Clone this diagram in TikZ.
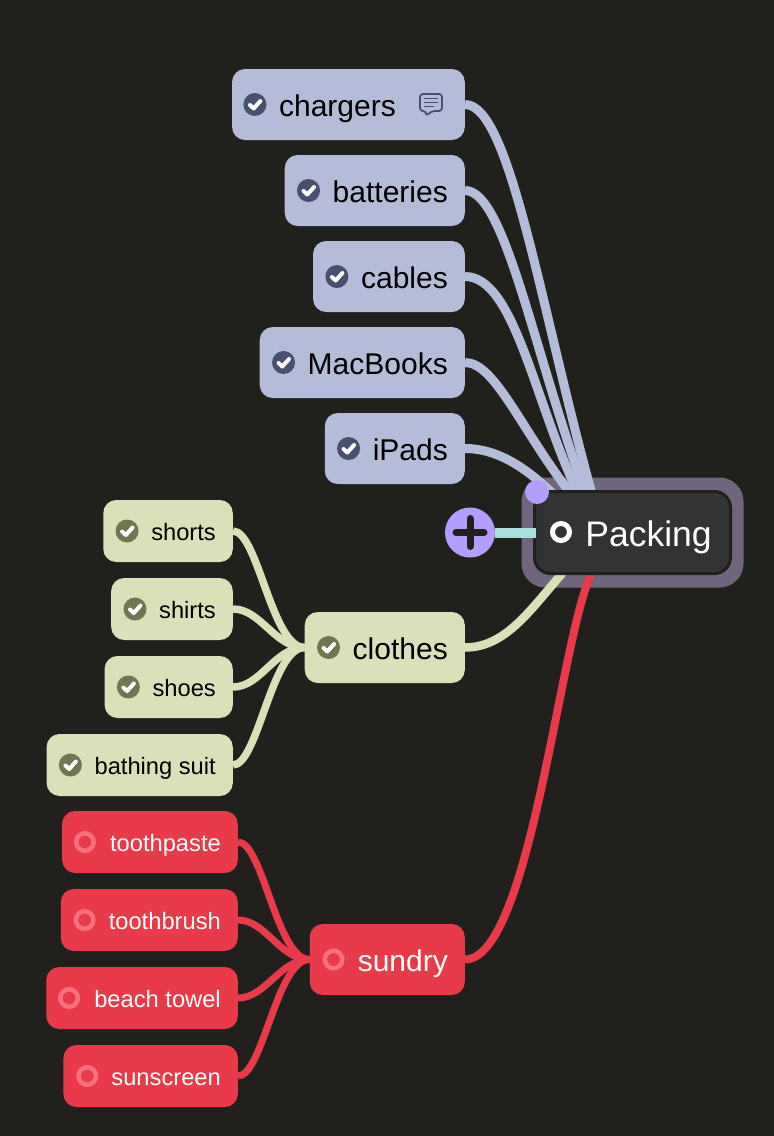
\documentclass[tikz,border=0pt]{standalone}
\usepackage{fontspec}
\setmainfont{Liberation Sans}
\usetikzlibrary{backgrounds}
\definecolor{bgdark}{HTML}{20211C}
\definecolor{bluefill}{HTML}{B4BCD9}
\definecolor{blueicon}{HTML}{47506F}
\definecolor{greenfill}{HTML}{DAE1B9}
\definecolor{greenicon}{HTML}{6F7650}
\definecolor{redfill}{HTML}{E93A49}
\definecolor{redicon}{HTML}{F6717C}
\definecolor{rootfill}{HTML}{333234}
\definecolor{rootring}{HTML}{6F667D}
\definecolor{purpledot}{HTML}{B39DFF}
\definecolor{tealstub}{HTML}{A8DFDC}

\begin{document}
\begin{tikzpicture}[x=1pt,y=-1pt]
	\tikzstyle{box}=[rectangle,rounded corners=13pt,anchor=east,inner ysep=0pt,inner xsep=17pt]
	\tikzstyle{bigbox}=[box,minimum height=71pt,font=\fontsize{30}{32}\selectfont,text height=25pt,text depth=2pt]
	\tikzstyle{smallbox}=[box,minimum height=62pt,font=\fontsize{23.7}{26}\selectfont,text height=20pt,text depth=1pt]
	\tikzstyle{tick}=[circle,inner sep=0pt,minimum size=23pt,path picture={
			\draw[white,line width=4pt,line cap=round,line join=round,shift={(path picture bounding box.center)}] (-5,0.5) -- (-1.2,4) -- (5.5,-3.5);}]
	\tikzstyle{opendot}=[circle,inner sep=0pt,minimum size=17.5pt,draw=redicon,line width=4.5pt]
	\tikzstyle{bluelink}=[bluefill,line width=9pt]
	\tikzstyle{greenlink}=[greenfill,line width=8.5pt]
	\tikzstyle{redlink}=[redfill,line width=8pt]
	\tikzstyle{greenchild}=[greenfill,line width=7.5pt]
	\tikzstyle{redchild}=[redfill,line width=7pt]

	\useasboundingbox (0,0) rectangle (774,1136);

	% root
	\node[rectangle,rounded corners=16pt,fill=rootfill,draw=bgdark,line width=3pt,minimum width=196pt,minimum height=82pt,text=white,
		inner sep=0pt,font=\fontsize{35.5}{38}\selectfont,text height=28pt,text depth=0pt] (packing) at (632.5,532.5) {\hspace*{32pt}Packing};
	\node[circle,draw=white,line width=5pt,inner sep=0pt,minimum size=17pt] (packing dot) at (561,532) {};

	% first level
	\node[bigbox,fill=bluefill] (chargers) at (465,104.5) {\hspace*{30pt}chargers\hspace*{52pt}};
	\node[bigbox,fill=bluefill] (batteries) at (465,190.5) {\hspace*{31pt}batteries};
	\node[bigbox,fill=bluefill] (cables) at (465,276.5) {\hspace*{31pt}cables};
	\node[bigbox,fill=bluefill] (macbooks) at (465,362.5) {\hspace*{31pt}MacBooks};
	\node[bigbox,fill=bluefill] (ipads) at (465,448.5) {\hspace*{31pt}iPads};
	\node[bigbox,fill=greenfill] (clothes) at (465,647.5) {\hspace*{31pt}clothes};
	\node[bigbox,fill=redfill,text=white] (sundry) at (465,959.5) {\hspace*{31pt}sundry};

	% second level
	\node[smallbox,fill=greenfill] (shorts) at (233,531) {\hspace*{31pt}shorts};
	\node[smallbox,fill=greenfill] (shirts) at (233,609) {\hspace*{31pt}shirts};
	\node[smallbox,fill=greenfill] (shoes) at (233,687) {\hspace*{31pt}shoes};
	\node[smallbox,fill=greenfill] (bathing) at (233,765) {\hspace*{31pt}bathing suit};
	\node[smallbox,fill=redfill,text=white] (toothpaste) at (238,842) {\hspace*{31pt}toothpaste};
	\node[smallbox,fill=redfill,text=white] (toothbrush) at (238,920) {\hspace*{31pt}toothbrush};
	\node[smallbox,fill=redfill,text=white] (towel) at (238,998) {\hspace*{31pt}beach towel};
	\node[smallbox,fill=redfill,text=white] (sunscreen) at (238,1076) {\hspace*{31pt}sunscreen};

	% status icons
	\node[tick,fill=blueicon] (chargers tick) at ([xshift=23pt]chargers.west) {};
	\node[tick,fill=blueicon] (batteries tick) at ([xshift=24pt]batteries.west) {};
	\node[tick,fill=blueicon] (cables tick) at ([xshift=24pt]cables.west) {};
	\node[tick,fill=blueicon] (macbooks tick) at ([xshift=24pt]macbooks.west) {};
	\node[tick,fill=blueicon] (ipads tick) at ([xshift=24pt]ipads.west) {};
	\node[tick,fill=greenicon] (clothes tick) at ([xshift=24pt]clothes.west) {};
	\node[tick,fill=greenicon] (shorts tick) at ([xshift=24pt]shorts.west) {};
	\node[tick,fill=greenicon] (shirts tick) at ([xshift=24pt]shirts.west) {};
	\node[tick,fill=greenicon] (shoes tick) at ([xshift=24pt]shoes.west) {};
	\node[tick,fill=greenicon] (bathing tick) at ([xshift=24pt]bathing.west) {};
	\node[opendot] (sundry dot) at ([xshift=24pt]sundry.west) {};
	\node[opendot] (toothpaste dot) at ([xshift=23pt]toothpaste.west) {};
	\node[opendot] (toothbrush dot) at ([xshift=24pt]toothbrush.west) {};
	\node[opendot] (towel dot) at ([xshift=23pt]towel.west) {};
	\node[opendot] (sunscreen dot) at ([xshift=24pt]sunscreen.west) {};

	% comment icon
	\draw[blueicon,line width=1.8pt,line join=round,rounded corners=3pt] (420,94) -- (442,94) -- (442,111) -- (432,111) -- (426,116) -- (426,111) -- (420,111) -- cycle;
	\draw[blueicon,line width=1.4pt] (424,98.5) -- (438,98.5) (424,102.5) -- (438,102.5) (424,106.5) -- (434,106.5);

	% add button
	\node[circle,fill=purpledot,inner sep=0pt,minimum size=50pt] (plus) at (470,532.5) {};
	\draw[tealstub,line width=10pt] (plus.east) -- ([xshift=3pt]packing.west);
	\draw[bgdark,line width=7pt,line cap=round] ([yshift=-14pt]plus.center) -- ([yshift=14pt]plus.center) ([xshift=-14pt]plus.center) -- ([xshift=14pt]plus.center);
	\node[circle,fill=purpledot,inner sep=0pt,minimum size=24pt] (handle) at (537,492) {};

	\begin{pgfonlayer}{background}
		\fill[bgdark] (0,0) rectangle (774,1136);
		\node[rectangle,rounded corners=24pt,fill=rootring,minimum width=222pt,minimum height=110pt] (packing ring) at (packing.center) {};

		\draw[bluelink] (chargers.east) .. controls +(45,0) and +(-53,-192) .. ([shift={(-40,6)}]packing.north);
		\draw[bluelink] (batteries.east) .. controls +(40,0) and +(-54,-147) .. ([shift={(-46,6)}]packing.north);
		\draw[bluelink] (cables.east) .. controls +(50,0) and +(-45,-92) .. ([shift={(-53,6)}]packing.north);
		\draw[bluelink] (macbooks.east) .. controls +(30,0) and +(-52,-67) .. ([shift={(-60,6)}]packing.north);
		\draw[bluelink] (ipads.east) .. controls +(35,0) and +(-26,-25) .. ([shift={(-77,6)}]packing.north);

		\draw[greenlink] (clothes.east) .. controls +(40,0) and +(-33,38) .. ([shift={(-70,-2)}]packing.south);
		\draw[redlink] (sundry.east) .. controls +(65,0) and +(-32,68) .. ([shift={(-41,-2)}]packing.south);

		\draw[greenchild] (shorts.east) .. controls +(25,0) and +(-33,0) .. (clothes.west);
		\draw[greenchild] (shirts.east) .. controls +(28,0) and +(-30,0) .. (clothes.west);
		\draw[greenchild] (shoes.east) .. controls +(28,0) and +(-30,0) .. (clothes.west);
		\draw[greenchild] (bathing.east) .. controls +(25,0) and +(-33,0) .. (clothes.west);
		\draw[redchild] (toothpaste.east) .. controls +(25,0) and +(-33,0) .. (sundry.west);
		\draw[redchild] (toothbrush.east) .. controls +(28,0) and +(-30,0) .. (sundry.west);
		\draw[redchild] (towel.east) .. controls +(28,0) and +(-30,0) .. (sundry.west);
		\draw[redchild] (sunscreen.east) .. controls +(25,0) and +(-33,0) .. (sundry.west);
	\end{pgfonlayer}
\end{tikzpicture}
\end{document}
